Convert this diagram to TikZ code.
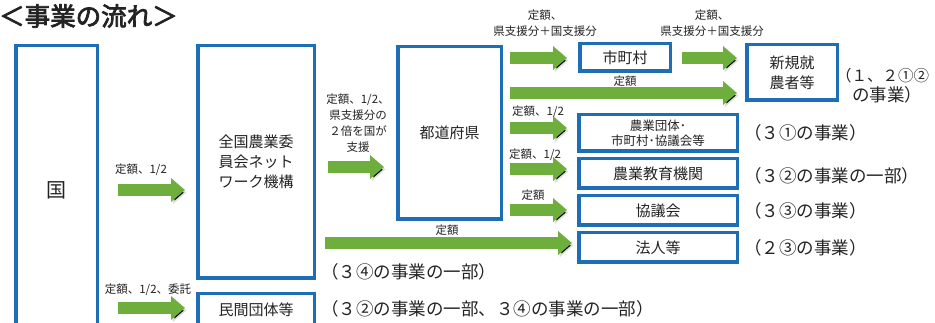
\documentclass[tikz,border=0pt]{standalone}
\usepackage{fontspec}
\setmainfont{Noto Sans CJK JP}
\newfontfamily\titlefont{Noto Sans CJK JP}[FakeBold=3]
\usetikzlibrary{arrows.meta}
\definecolor{boxblue}{RGB}{30,110,182}
\definecolor{agreen}{RGB}{110,174,60}
\definecolor{txt}{RGB}{35,35,35}
\tikzset{
  box/.style={draw=boxblue, line width=3.5pt, fill=white, inner sep=0pt, outer sep=0pt,
    align=center, text=txt, font=\fontsize{15}{20}\selectfont},
  sbox/.style={box, font=\fontsize{12.5}{15}\selectfont},
  garrow/.style={draw=agreen, line width=12pt,
    -{Triangle[length=14pt,width=23pt]},
    preaction={draw=black, draw opacity=0.13, transform canvas={xshift=1.5pt,yshift=-2.5pt}}},
  lab/.style={inner sep=0pt, text=txt, align=center, font=\fontsize{11.5}{16}\selectfont},
  note/.style={inner sep=0pt, anchor=west, text=txt, font=\fontsize{17.5}{18}\selectfont},
}
\begin{document}
\begin{tikzpicture}[x=1pt,y=-1pt]
\useasboundingbox (0,0) rectangle (935,323);
\clip (0,0) rectangle (935,323);
\fill[white] (0,0) rectangle (935,323);

% title
\node[inner sep=0pt, anchor=west, text=txt, font=\titlefont\fontsize{25.5}{28}\selectfont] (title) at (-1,16) {＜事業の流れ＞};

% boxes
\node[box, minimum width=81.5pt, minimum height=288.5pt, font=\fontsize{20}{24}\selectfont] (guo) at (56.5,190) {国};
\node[box, minimum width=116.5pt, minimum height=232.5pt] (zen) at (256,162) {全国農業委\\員会ネット\\ワーク機構};
\node[box, minimum width=116.5pt, minimum height=32.5pt] (minkan) at (256,310) {民間団体等};
\node[box, minimum width=103.5pt, minimum height=172.5pt] (todo) at (449.5,133) {都道府県};
\node[box, minimum width=90.5pt, minimum height=27.5pt] (shi) at (625,57.5) {市町村};
\node[box, minimum width=90.5pt, minimum height=55.5pt] (shinki) at (792,72.5) {新規就\\農者等};
\node[sbox, minimum width=158.5pt, minimum height=36.5pt] (nodan) at (658,133) {農業団体･\\市町村･協議会等};
\node[box, minimum width=158.5pt, minimum height=29.5pt] (kyoiku) at (658,173.5) {農業教育機関};
\node[box, minimum width=158.5pt, minimum height=29.5pt] (kyogi) at (658,210.5) {協議会};
\node[box, minimum width=158.5pt, minimum height=29.5pt] (hojin) at (658,247.5) {法人等};

% arrows
\draw[garrow] ([xshift=20.75pt]guo.east |- 0,190) -- ([xshift=-12.75pt]zen.west |- 0,190);
\draw[garrow] ([xshift=20.75pt]guo.east |- 0,308) -- ([xshift=-12.75pt]minkan.west |- 0,308);
\draw[garrow] ([xshift=13.75pt]zen.east |- 0,167) -- ([xshift=-13.75pt]todo.west |- 0,167);
\draw[garrow] ([xshift=8.75pt]todo.east |- 0,58) -- ([xshift=-12.75pt]shi.west |- 0,58);
\draw[garrow] ([xshift=11.75pt]shi.east |- 0,58) -- ([xshift=-9.75pt]shinki.west |- 0,58);
\draw[garrow] ([xshift=8.75pt]todo.east |- 0,93) -- ([xshift=-9.75pt]shinki.west |- 0,93);
\draw[garrow] ([xshift=8.75pt]todo.east |- 0,128) -- ([xshift=-11.75pt]nodan.west |- 0,128);
\draw[garrow] ([xshift=8.75pt]todo.east |- 0,169) -- ([xshift=-11.75pt]kyoiku.west |- 0,169);
\draw[garrow] ([xshift=8.75pt]todo.east |- 0,210) -- ([xshift=-11.75pt]kyogi.west |- 0,210);
\draw[garrow] ([xshift=10.75pt]zen.east |- 0,243) -- ([xshift=-6.75pt]hojin.west |- 0,243);

% arrow labels
\node[lab] (la) at (141,170) {定額、1/2};
\node[lab] (lb) at (148,290) {定額、1/2、委託};
\node[lab] (lc) at (358,123) {定額、1/2、\\県支援分の\\２倍を国が\\支援};
\node[lab] (ld) at (545,23.5) {定額、\\県支援分＋国支援分};
\node[lab] (le) at (712,23.5) {定額、\\県支援分＋国支援分};
\node[lab] (lf) at (625,81) {定額};
\node[lab] (lg) at (538,112) {定額、1/2};
\node[lab] (lh) at (535,155) {定額、1/2};
\node[lab] (li) at (533,195) {定額};
\node[lab] (lj) at (447,230) {定額};

% notes
\node[note, font=\fontsize{15.5}{18}\selectfont] (n1a) at (836,76) {（１、２①②};
\node[note] (n1b) at (852,95) {の事業）};
\node[note] (n2) at (744,133) {（３①の事業）};
\node[note] (n3) at (744,176) {（３②の事業の一部）};
\node[note] (n4) at (744,211) {（３③の事業）};
\node[note] (n5) at (744,248) {（２③の事業）};
\node[note] (n6) at (321,272) {（３④の事業の一部）};
\node[note] (n7) at (321,309) {（３②の事業の一部、３④の事業の一部）};
\end{tikzpicture}
\end{document}
